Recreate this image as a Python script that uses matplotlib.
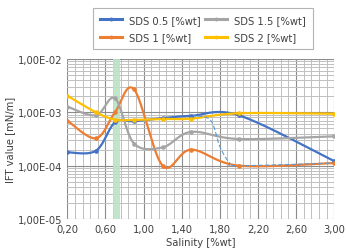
import numpy as np
import matplotlib
matplotlib.use("Agg")
import matplotlib.pyplot as plt
from matplotlib.lines import Line2D

plt.rcParams["font.family"] = ["DejaVu Sans"]

# salinity points [%wt]
salinity = [0.2, 0.5, 0.7, 0.9, 1.2, 1.5, 2.0, 3.0]

# IFT values [mN/m]
sds_05 = [1.78e-4, 1.9e-4, 6.5e-4, 6.8e-4, 7.8e-4, 8.6e-4, 8.8e-4, 1.22e-4]
sds_1 = [7.0e-4, 3.26e-4, 1.0e-3, 2.7e-3, 1.0e-4, 2.0e-4, 1.0e-4, 1.12e-4]
sds_15 = [1.28e-3, 8.8e-4, 1.83e-3, 2.6e-4, 2.2e-4, 4.3e-4, 3.16e-4, 3.55e-4]
sds_2 = [2.05e-3, 1.0e-3, 7.3e-4, 7.2e-4, 7.5e-4, 7.6e-4, 9.6e-4, 9.4e-4]

# thin dashed trace (no legend entry)
extra_x = [1.5, 1.7, 1.8, 1.9, 2.0, 3.0]
extra_y = [8.6e-4, 7.2e-4, 2.3e-4, 1.15e-4, 1.0e-4, 1.12e-4]

nomes = ["SDS 0.5 [%wt]", "SDS 1 [%wt]", "SDS 1.5 [%wt]", "SDS 2 [%wt]"]
cores = ["#4472C4", "#ED7D31", "#A5A5A5", "#FFC000"]

optimo = (0.68, 0.75)

yticks = [1e-5, 1e-4, 1e-3, 1e-2]
ytick_labels = ["1,00E-05", "1,00E-04", "1,00E-03", "1,00E-02"]
xticks = np.arange(0.2, 3.01, 0.4)
xtick_labels = [f"{v:.2f}".replace(".", ",") for v in xticks]


def suavizar(xs, ys, n=40):
    # curva suave tipo Excel (Bezier / Catmull-Rom) em escala de tela
    u = np.array(xs, dtype=float) / 2.8
    v = np.log10(np.array(ys, dtype=float)) / 3.0 * (160 / 267)
    P = np.column_stack([u, v])
    Pe = np.vstack([P[0], P, P[-1]])
    out = []
    t = np.linspace(0, 1, n)[:, None]
    for i in range(len(P) - 1):
        p0, p1, p2, p3 = Pe[i], Pe[i + 1], Pe[i + 2], Pe[i + 3]
        c1 = p1 + (p2 - p0) / 6
        c2 = p2 - (p3 - p1) / 6
        seg = ((1 - t) ** 3) * p1 + 3 * ((1 - t) ** 2) * t * c1 + 3 * (1 - t) * t**2 * c2 + t**3 * p2
        out.append(seg if i == 0 else seg[1:])
    out = np.vstack(out)
    return out[:, 0] * 2.8, 10 ** (out[:, 1] * 3.0 / (160 / 267))


fig = plt.figure(figsize=(3.47, 2.51), dpi=100)
ax = fig.add_axes([0.194, 0.1235, 0.769, 0.6375])

ax.set_yscale("log")
ax.set_xlim(0.2, 3.0)
ax.set_ylim(1e-5, 1e-2)

ax.axvspan(optimo[0], optimo[1], color="#B9E3C6", alpha=0.9, zorder=1, lw=0)

ax.set_xticks(xticks)
ax.set_xticks(np.arange(0.2, 3.01, 0.08), minor=True)
ax.set_xticklabels(xtick_labels)
ax.set_yticks(yticks)
ax.set_yticklabels(ytick_labels)
ax.grid(True, which="major", color="#8C8C8C", lw=0.8, zorder=0)
ax.grid(True, which="minor", color="#C0C0C0", lw=0.7, zorder=0)
ax.tick_params(which="both", length=0, labelsize=7.2, colors="#404040")
ax.tick_params(axis="x", pad=3.5)
ax.tick_params(axis="y", pad=3.5)
for s in ax.spines.values():
    s.set_visible(False)
ax.set_axisbelow(True)

series = [sds_05, sds_1, sds_15, sds_2]
handles = []
for ys, cor, nome in zip(series, cores, nomes):
    xs_s, ys_s = suavizar(salinity, ys)
    ax.plot(xs_s, ys_s, color=cor, lw=1.6, zorder=3, solid_capstyle="round")
    ax.plot(salinity, ys, "o", color=cor, ms=2.3, zorder=4)
    handles.append(Line2D([], [], color=cor, lw=2.2, marker="o", ms=1.8, label=nome))

xs_e, ys_e = suavizar(extra_x, extra_y)
ax.plot(xs_e, ys_e, color="#5B9BD5", lw=0.8, ls=(0, (4, 2)), zorder=3)

ax.set_xlabel("Salinity [%wt]", fontsize=7.2, color="#404040", labelpad=2)
ax.set_ylabel("IFT value [mN/m]", fontsize=7.2, color="#404040", labelpad=2)

leg = fig.legend(handles=handles, loc="upper center", bbox_to_anchor=(0.585, 0.985),
                 ncol=2, fontsize=7.2, frameon=True, fancybox=False,
                 edgecolor="#A0A0A0", handlelength=2.2, columnspacing=0.5,
                 labelspacing=0.75, borderpad=0.7, handletextpad=0.7)
leg.get_frame().set_linewidth(0.8)
for t in leg.get_texts():
    t.set_color("#404040")

fig.savefig("out.png", dpi=100)
